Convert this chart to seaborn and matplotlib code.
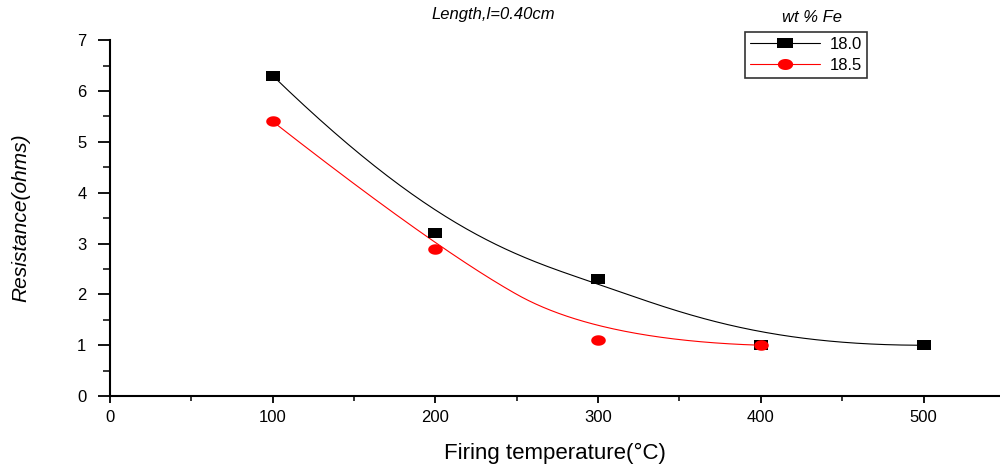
#!/usr/bin/env python3

import numpy as np
import pandas as pd
import seaborn as sns
import matplotlib.pyplot as plt
from matplotlib.path import Path
from matplotlib.lines import Line2D
from matplotlib.ticker import MultipleLocator

# firing temperature (C) and resistance (ohms) per Fe content
temp_180 = [100, 200, 300, 400, 500]
res_180 = [6.3, 3.2, 2.3, 1.0, 1.0]
temp_185 = [100, 200, 300, 400]
res_185 = [5.4, 2.9, 1.1, 1.0]
series_labels = ["18.0", "18.5"]


def bspline(xs, ys, k=3, n=300):
    # clamped B-spline using the data points as control points
    pts = np.column_stack([xs, ys]).astype(float)
    m = len(pts)
    k = min(k, m - 1)
    inner = list(np.linspace(0, 1, m - k + 1)[1:-1])
    knots = np.array([0.0] * (k + 1) + inner + [1.0] * (k + 1))
    u = np.linspace(0, 1 - 1e-9, n)

    def basis(i, p, u):
        if p == 0:
            return ((knots[i] <= u) & (u < knots[i + 1])).astype(float)
        a = 0.0
        d1 = knots[i + p] - knots[i]
        if d1 > 0:
            a = (u - knots[i]) / d1 * basis(i, p - 1, u)
        b = 0.0
        d2 = knots[i + p + 1] - knots[i + 1]
        if d2 > 0:
            b = (knots[i + p + 1] - u) / d2 * basis(i + 1, p - 1, u)
        return a + b

    N = np.array([basis(i, k, u) for i in range(m)])
    curve = N.T @ pts
    curve = np.vstack([curve, pts[-1]])
    return curve[:, 0], curve[:, 1]


# squashed square and ellipse markers like the original export
rect = Path([(-1, -0.7), (1, -0.7), (1, 0.7), (-1, 0.7), (-1, -0.7)],
            [Path.MOVETO, Path.LINETO, Path.LINETO, Path.LINETO, Path.CLOSEPOLY])
th = np.linspace(0, 2 * np.pi, 60)
ell = Path(np.column_stack([np.cos(th), 0.72 * np.sin(th)]))

sns.set_style("ticks", {"axes.edgecolor": "black", "text.color": "black",
                        "xtick.color": "black", "ytick.color": "black",
                        "axes.labelcolor": "black"})
plt.rcParams["font.family"] = ["Liberation Sans", "DejaVu Sans"]

fig = plt.figure(figsize=(10, 4.66), dpi=100)
ax = fig.add_axes([0.11, 0.15, 0.89, 0.764])

cx, cy = bspline(temp_180, res_180, k=3)
sns.lineplot(x=cx, y=cy, ax=ax, color="black", linewidth=0.8, sort=False)
cx, cy = bspline(temp_185, res_185, k=2)
sns.lineplot(x=cx, y=cy, ax=ax, color="red", linewidth=0.8, sort=False)

sns.scatterplot(x=temp_180, y=res_180, ax=ax, marker=rect, s=110,
                color="black", linewidth=0, zorder=3)
sns.scatterplot(x=temp_185, y=res_185, ax=ax, marker=ell, s=110,
                color="red", linewidth=0, zorder=4)

ax.set_xlim(0, 547)
ax.set_ylim(0, 7)
ax.xaxis.set_major_locator(MultipleLocator(100))
ax.xaxis.set_minor_locator(MultipleLocator(50))
ax.yaxis.set_major_locator(MultipleLocator(1))
ax.yaxis.set_minor_locator(MultipleLocator(0.5))
sns.despine(ax=ax)
for sp in ["left", "bottom"]:
    ax.spines[sp].set_linewidth(1.5)
ax.tick_params(axis="y", which="major", length=9, width=1.3, labelsize=12,
               pad=8, direction="out")
ax.tick_params(axis="y", which="minor", length=5, width=1.1, direction="out")
ax.tick_params(axis="x", which="major", length=5, width=1.3, labelsize=12,
               pad=5, direction="out")
ax.tick_params(axis="x", which="minor", length=3.5, width=1.1, direction="out")

ax.set_ylabel("Resistance(ohms)", fontsize=15, style="italic")
ax.yaxis.set_label_coords(-0.09, 0.5)
ax.set_xlabel("Firing temperature(°C)", fontsize=16)
ax.xaxis.set_label_coords(0.5, -0.13)

fig.text(0.493, 0.968, "Length,l=0.40cm", fontsize=12, style="italic",
         ha="center", va="center")

handles = [
    Line2D([], [], color="black", linewidth=0.8, marker=rect, markersize=11,
           markeredgewidth=0),
    Line2D([], [], color="red", linewidth=0.8, marker=ell, markersize=11,
           markeredgewidth=0),
]
leg = ax.legend(handles, series_labels, loc="upper left",
                bbox_to_anchor=(0.745, 0.931), bbox_transform=fig.transFigure,
                fontsize=12, frameon=True, fancybox=False, handlelength=4.2,
                borderpad=0.3, labelspacing=0.35, handletextpad=0.6,
                borderaxespad=0)
leg.get_frame().set_edgecolor("black")
leg.get_frame().set_linewidth(1.2)
fig.text(0.812, 0.963, "wt % Fe", fontsize=12, style="italic",
         ha="center", va="center")

fig.savefig("out.png", dpi=100)
